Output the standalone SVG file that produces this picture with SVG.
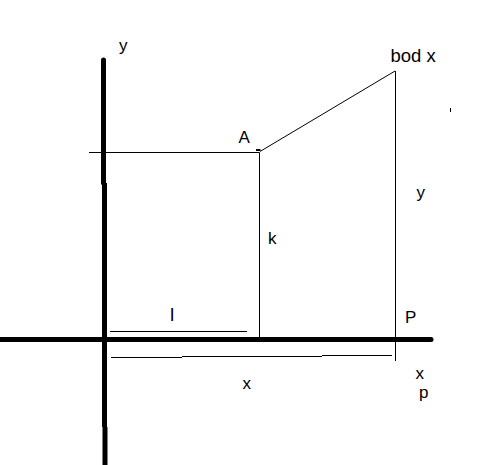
<svg xmlns="http://www.w3.org/2000/svg" width="481" height="465" viewBox="0 0 481 465">
<style>
.t{font-family:"Liberation Sans",Arial,sans-serif;font-size:17px;fill:#000}
.thin{stroke:#000;stroke-width:1;fill:none}
.axis{stroke:#000;stroke-width:5;fill:none}
</style>
<rect width="481" height="465" fill="#fff"/>
<g id="connectors">
<path class="axis" d="M103.5 60V183" stroke-linecap="round"/>
<path class="axis" d="M104.5 183V427"/>
<path class="axis" d="M105 427V465"/>
<path class="axis" d="M0 339.5H431" stroke-linecap="round"/>
<path class="thin" d="M89 152.5H259.5V337"/>
<path class="thin" d="M260 151.5L395 71"/>
<path class="thin" d="M395.5 71V361"/>
<path stroke="#000" stroke-width="2" d="M256 150H260.5"/>
<path class="thin" d="M450.5 108V112"/>
<path class="thin" d="M110 331.5H247"/>
<path class="thin" d="M111 357.5H182M182 356.5H322M322 355.5H392"/>
</g>
<g id="labels">
<text class="t" x="119" y="51">y</text>
<text class="t" x="238.5" y="143.3">A</text>
<text class="t" x="390.5" y="62.3" style="font-size:18.5px">bod x</text>
<text class="t" x="268" y="244">k</text>
<text class="t" x="416.5" y="198">y</text>
<text class="t" x="170" y="320.7" style="font-size:19px">l</text>
<text class="t" x="405" y="322.7">P</text>
<text class="t" x="242.5" y="389.3">x</text>
<text class="t" x="415.5" y="379.3">x</text>
<text class="t" x="419" y="398">p</text>
</g>
</svg>
